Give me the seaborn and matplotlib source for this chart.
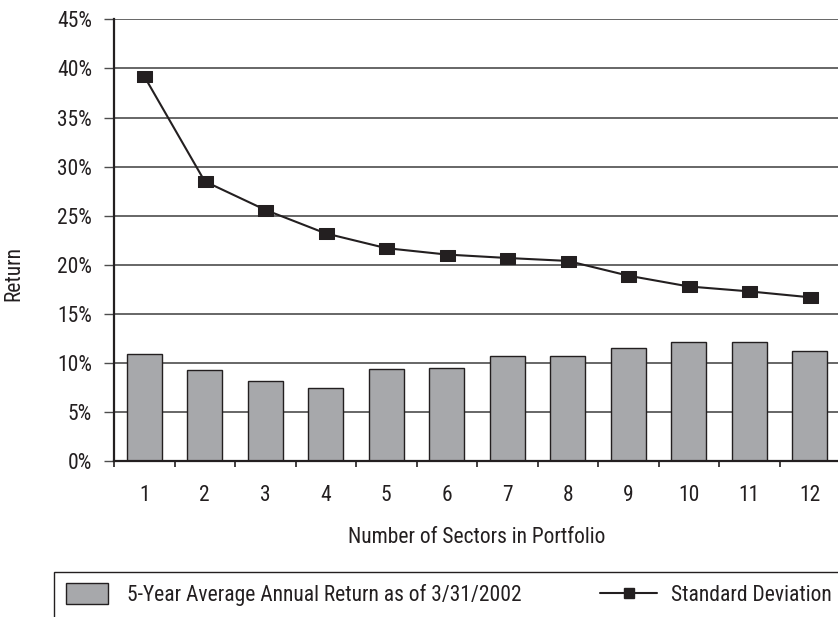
import numpy as np
import pandas as pd
import matplotlib
matplotlib.use("Agg")
import matplotlib.pyplot as plt
from matplotlib import font_manager as fm
from matplotlib.lines import Line2D
from matplotlib.patches import Patch, Rectangle
from matplotlib.legend_handler import HandlerBase
import seaborn as sns

# ---- data -------------------------------------------------------------
sectors = ["1", "2", "3", "4", "5", "6", "7", "8", "9", "10", "11", "12"]
avg_return = [10.9, 9.3, 8.2, 7.5, 9.4, 9.5, 10.7, 10.7, 11.5, 12.1, 12.1, 11.2]
std_dev = [39.2, 28.5, 25.6, 23.2, 21.7, 21.05, 20.7, 20.4, 18.9, 17.8, 17.3, 16.7]
ytick_vals = [0, 5, 10, 15, 20, 25, 30, 35, 40, 45]
ytick_labels = [f"{v}%" for v in ytick_vals]
bar_label = "5-Year Average Annual Return as of 3/31/2002"
line_label = "Standard Deviation"
x_title = "Number of Sectors in Portfolio"
y_title = "Return"

# ---- style ------------------------------------------------------------
INK = "#231f20"
BAR = "#a7a8ab"
GRID = "#4d4d4d"

sns.set_theme(style="white")


def pick_font():
    """Prefer a narrow sans face; fall back to a regular one at a smaller size."""
    for fam in ("Liberation Sans Narrow", "Roboto Condensed", "Open Sans Condensed",
                "Noto Sans Condensed"):
        try:
            fm.findfont(fm.FontProperties(family=fam), fallback_to_default=False)
            return fam, "normal", 15.5
        except Exception:
            pass
    path = fm.findfont(fm.FontProperties(family="DejaVu Sans", stretch="condensed"))
    if "Condensed" in path:
        return "DejaVu Sans", "condensed", 14
    return "Liberation Sans", "normal", 13


FAMILY, STRETCH, FS = pick_font()
plt.rcParams["font.family"] = [FAMILY, "DejaVu Sans"]
plt.rcParams["font.stretch"] = STRETCH
plt.rcParams["text.color"] = INK

W, H = 838, 617
fig = plt.figure(figsize=(W / 100, H / 100), dpi=100)
ax = fig.add_axes([114 / W, 1 - 461.3 / H, 726 / W, 442 / H])

df = pd.DataFrame({"sectors": sectors, "ret": avg_return, "sd": std_dev})
df["pos"] = np.arange(len(df))

sns.barplot(data=df, x="sectors", y="ret", color=BAR, saturation=1, width=0.58,
            edgecolor=INK, linewidth=1.0, ax=ax, zorder=2)

rect_marker = [(-7.5, -5.5), (7.5, -5.5), (7.5, 5.5), (-7.5, 5.5), (-7.5, -5.5)]
sns.lineplot(data=df, x="pos", y="sd", color=INK, linewidth=1.5, marker=rect_marker,
             markersize=10.8, markeredgecolor=INK, markerfacecolor=INK,
             ax=ax, zorder=4, legend=False)

ax.set_xlim(-0.5, len(sectors) - 0.5)
ax.set_ylim(ytick_vals[0], ytick_vals[-1])

# x axis: labels centred on categories, tick marks between them
ax.set_xticks(np.arange(len(sectors)))
ax.set_xticklabels(sectors)
ax.set_xticks(np.arange(len(sectors) + 1) - 0.5, minor=True)
ax.tick_params(axis="x", which="major", length=0, pad=17, labelsize=FS, labelcolor=INK)
ax.tick_params(axis="x", which="minor", bottom=True, length=4.5, width=1.2,
               color=INK, direction="out")

# y axis
ax.set_yticks(ytick_vals)
ax.set_yticklabels(ytick_labels)
ax.tick_params(axis="y", which="major", left=True, length=7.2, width=1.0, color=GRID,
               direction="out", pad=8.6, labelsize=FS, labelcolor=INK)

ax.yaxis.grid(True, color=GRID, linewidth=1.2)
ax.xaxis.grid(False)
ax.set_axisbelow(True)

for side in ("top", "right"):
    ax.spines[side].set_visible(False)
for side in ("left", "bottom"):
    ax.spines[side].set_color(INK)
    ax.spines[side].set_linewidth(1.6)
ax.spines["bottom"].set_zorder(5)

ax.set_xlabel(x_title, fontsize=FS, color=INK, labelpad=15)
ax.set_ylabel(y_title, fontsize=FS, color=INK)
ax.yaxis.set_label_coords(-0.124, 0.424)


# ---- legend -------------------------------------------------------------
class BoxHandler(HandlerBase):
    def create_artists(self, legend, orig_handle, xdescent, ydescent, width,
                       height, fontsize, trans):
        w, h = 30.2, 15.1
        y0 = -ydescent + height / 2 - h / 2
        r = Rectangle((-xdescent, y0), w, h, facecolor=BAR, edgecolor=INK,
                      linewidth=1.0, transform=trans)
        return [r]


class LineMarkHandler(HandlerBase):
    def create_artists(self, legend, orig_handle, xdescent, ydescent, width,
                       height, fontsize, trans):
        y = -ydescent + height / 2
        x0 = -xdescent - 7.2
        x1 = x0 + 41.0
        ln = Line2D([x0, x1], [y, y], color=INK, linewidth=1.5, transform=trans)
        mk = Line2D([(x0 + x1) / 2], [y], marker="s", markersize=7.9, color=INK,
                    linestyle="none", transform=trans)
        return [ln, mk]


bar_handle = Patch(facecolor=BAR, edgecolor=INK)
line_handle = Line2D([], [], color=INK, marker="s")
leg = fig.legend(handles=[bar_handle, line_handle], labels=[bar_label, line_label],
                 loc="upper left", bbox_to_anchor=(54 / W, 1 - 572 / H),
                 bbox_transform=fig.transFigure, ncol=2, frameon=True,
                 fancybox=False, edgecolor=INK, facecolor="white", framealpha=1,
                 borderpad=8.6 / FS, borderaxespad=0, handlelength=39.4 / FS,
                 handletextpad=4.5 / FS, columnspacing=64 / FS, fontsize=FS,
                 handler_map={bar_handle: BoxHandler(), line_handle: LineMarkHandler()})
leg.get_frame().set_linewidth(1.0)

fig.savefig("out.png", dpi=100)
